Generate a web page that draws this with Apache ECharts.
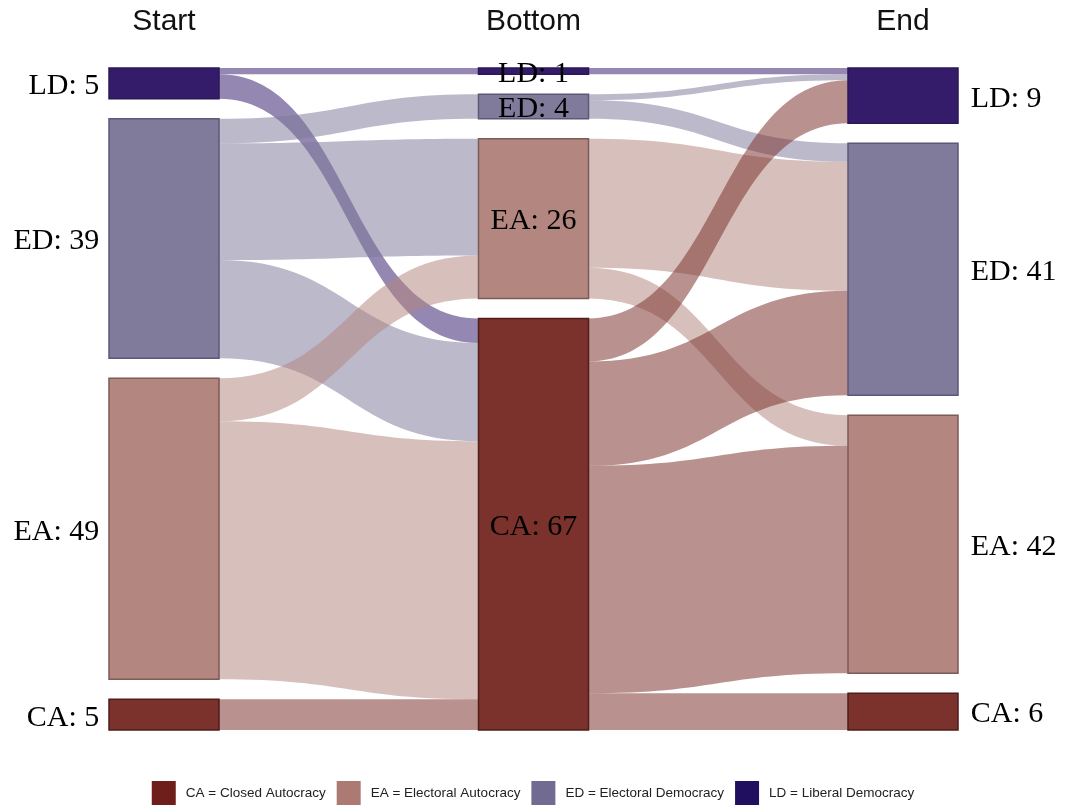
<!DOCTYPE html>
<html>
<head>
<meta charset="utf-8">
<script src="https://cdn.jsdelivr.net/npm/echarts@6/dist/echarts.min.js"></script>
<style>
html,body{margin:0;padding:0;background:#ffffff;}
#chart{width:1066px;height:807px;}
</style>
</head>
<body>
<div id="chart"></div>
<script>
// ---- data ----
const columns = ['Start', 'Bottom', 'End'];
const regimes = ['LD', 'ED', 'EA', 'CA'];
const startValues = [5, 39, 49, 5];
const bottomValues = [1, 4, 26, 67];
const endValues = [9, 41, 42, 6];
const startToBottom = [
  ['LD', 'LD', 1], ['LD', 'CA', 4],
  ['ED', 'ED', 4], ['ED', 'EA', 19], ['ED', 'CA', 16],
  ['EA', 'EA', 7], ['EA', 'CA', 42],
  ['CA', 'CA', 5]
];
const bottomToEnd = [
  ['LD', 'LD', 1],
  ['ED', 'LD', 1], ['ED', 'ED', 3],
  ['EA', 'ED', 21], ['EA', 'EA', 5],
  ['CA', 'LD', 7], ['CA', 'ED', 17], ['CA', 'EA', 37], ['CA', 'CA', 6]
];
const legendKeys = ['CA', 'EA', 'ED', 'LD'];
const legendLabels = ['CA = Closed Autocracy', 'EA = Electoral Autocracy', 'ED = Electoral Democracy', 'LD = Liberal Democracy'];

// ---- styles ----
const nodeFill = { LD: '#341c6b', ED: '#807b9b', EA: '#b38680', CA: '#7b312c' };
const nodeBorder = { LD: '#2a1757', ED: '#5d5878', EA: '#7d5b56', CA: '#4f1d1a' };
const legendColor = { CA: '#6e1f1c', EA: '#ad7a73', ED: '#716b92', LD: '#1f0f5e' };

const W = 1066, H = 807;
const L = 109, R = 108, T = 68, B = 77, NW = 110;

const columnValues = [startValues, bottomValues, endValues];
const labelPos = [
  { position: 'left', distance: 9 },
  { position: 'inside', distance: 0 },
  { position: 'right', distance: 12 }
];

const nodes = [];
columns.forEach(function (col, ci) {
  regimes.forEach(function (rg, ri) {
    nodes.push({
      name: col + '|' + rg,
      value: columnValues[ci][ri],
      depth: ci,
      itemStyle: { color: nodeFill[rg], borderColor: nodeBorder[rg] },
      label: { position: labelPos[ci].position, distance: labelPos[ci].distance }
    });
  });
});

const links = [];
startToBottom.forEach(function (f) {
  links.push({ source: 'Start|' + f[0], target: 'Bottom|' + f[1], value: f[2] });
});
bottomToEnd.forEach(function (f) {
  links.push({ source: 'Bottom|' + f[0], target: 'End|' + f[1], value: f[2] });
});

const chart = echarts.init(document.getElementById('chart'), null, { renderer: 'canvas' });

const series = [{
  type: 'sankey',
  left: L, right: R, top: T, bottom: B,
  nodeWidth: NW,
  nodeGap: 20,
  layoutIterations: 0,
  draggable: false,
  silent: true,
  emphasis: { disabled: true },
  data: nodes,
  links: links,
  itemStyle: { borderWidth: 1.5 },
  lineStyle: { color: 'source', opacity: 0.53, curveness: 0.5 },
  label: {
    show: true,
    fontFamily: '"Liberation Serif", "Times New Roman", serif',
    fontSize: 30,
    color: '#000000',
    offset: [0, 3],
    formatter: function (p) { return p.name.split('|')[1] + ': ' + p.value; }
  }
}];

legendKeys.forEach(function (k, i) {
  series.push({
    type: 'graph',
    name: legendLabels[i],
    layout: 'none',
    data: [],
    links: [],
    itemStyle: { color: legendColor[k] }
  });
});

const colStep = (W - L - R - NW) / (columns.length - 1);
const titles = columns.map(function (c, i) {
  return {
    type: 'text',
    x: L + NW / 2 + i * colStep,
    y: 22,
    style: {
      text: c,
      fill: '#111111',
      font: '30px "Liberation Sans", Arial, sans-serif',
      align: 'center',
      verticalAlign: 'middle'
    }
  };
});

chart.setOption({
  backgroundColor: '#ffffff',
  animation: false,
  legend: {
    data: legendLabels,
    left: 'center',
    top: 781,
    padding: 0,
    icon: 'rect',
    itemWidth: 24,
    itemHeight: 24,
    itemGap: 11,
    selectedMode: false,
    textStyle: {
      fontFamily: '"Liberation Sans", Arial, sans-serif',
      fontSize: 13.5,
      color: '#222222',
      padding: [0, 0, 0, 5]
    }
  },
  graphic: titles,
  series: series
});
</script>
</body>
</html>
